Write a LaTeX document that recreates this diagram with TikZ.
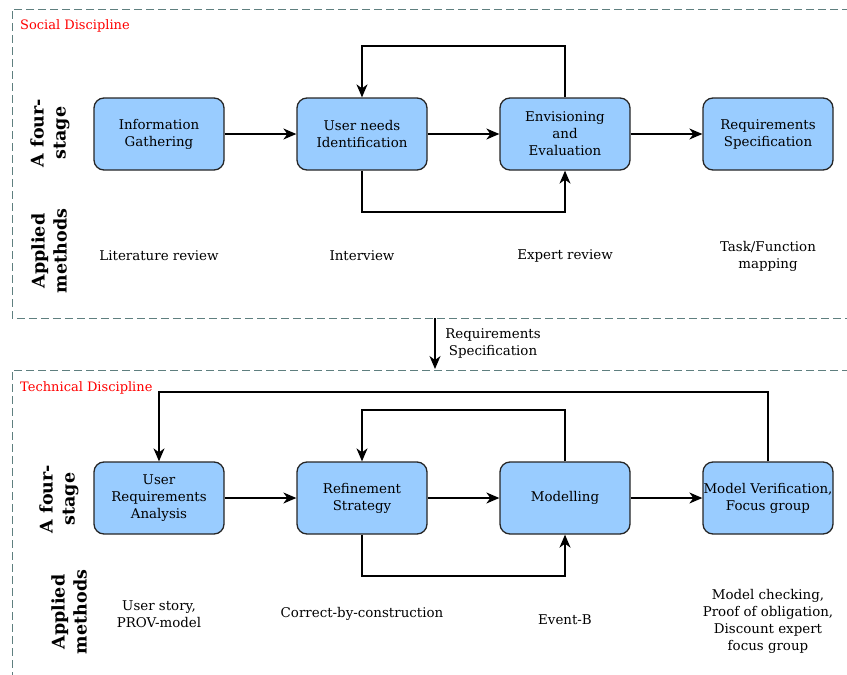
\documentclass[tikz,border=0pt]{standalone}
\usepackage{fontspec}
\setmainfont{DejaVu Serif}
\usetikzlibrary{arrows.meta}
\definecolor{boxfill}{HTML}{99CCFF}
\definecolor{framecol}{HTML}{5F7F7F}
\begin{document}
\begin{tikzpicture}[x=1pt,y=-1pt,
  stagebox/.style={draw=black!85, fill=boxfill, rounded corners=10pt, line width=1.3pt,
    minimum width=130pt, minimum height=72pt, align=center,
    font=\fontsize{13.4}{17}\selectfont, inner sep=0pt},
  method/.style={align=center, font=\fontsize{13.4}{17}\selectfont, inner sep=0pt},
  rowlabel/.style={rotate=90, align=center, font=\fontsize{17.5}{22}\selectfont\bfseries, inner sep=0pt},
  discipline/.style={anchor=base west, text=red, font=\fontsize{13}{15}\selectfont, inner sep=0pt},
  frame/.style={draw=framecol, dash pattern=on 8pt off 4pt, line width=1pt},
  flow/.style={draw, line width=1.3pt, -{Stealth[length=13pt,width=11pt,inset=4pt]}},
]
\useasboundingbox (0,0) rectangle (847,675);

% discipline frames (open towards the right edge)
\draw[frame] (850,9) -- (12,9) -- (12,318) -- (850,318);
\draw[frame] (850,370) -- (12,370) -- (12,680);

\node[discipline] (social) at (20,29) {Social Discipline};
\node[discipline] (technical) at (20,391) {Technical Discipline};

% ---------------- social discipline ----------------
\node[rowlabel] (sfour) at (50,133) {A four-\\stage};
\node[rowlabel] (sapplied) at (49,251) {Applied\\methods};

\node[stagebox] (s1) at (159,134) {Information\\Gathering};
\node[stagebox] (s2) at (362,134) {User needs\\Identification};
\node[stagebox] (s3) at (565,134) {Envisioning\\and\\Evaluation};
\node[stagebox] (s4) at (768,134) {Requirements\\Specification};

\draw[flow] (s1) -- (s2);
\draw[flow] (s2) -- (s3);
\draw[flow] (s3) -- (s4);

\coordinate (sloopup) at (0,46);
\coordinate (sloopdown) at (0,212);
\draw[flow] (s3.north) -- (s3.north |- sloopup) -| (s2.north);
\draw[flow] (s2.south) -- (s2.south |- sloopdown) -| (s3.south);

\node[method] (m1) at (159,256) {Literature review};
\node[method] (m2) at (362,256) {Interview};
\node[method] (m3) at (565,256) {Expert review};
\node[method] (m4) at (768,256) {Task/Function\\mapping};

% ---------------- hand-over ----------------
\coordinate (handout) at (435,318);
\coordinate (handin) at (435,369);
\draw[flow] (handout) -- (handin);
\node[method] (handlabel) at (493,343) {Requirements\\Specification};

% ---------------- technical discipline ----------------
\node[rowlabel] (tfour) at (59,499) {A four-\\stage};
\node[rowlabel] (tapplied) at (69,612) {Applied\\methods};

\node[stagebox] (t1) at (159,498) {User\\Requirements\\Analysis};
\node[stagebox] (t2) at (362,498) {Refinement\\Strategy};
\node[stagebox] (t3) at (565,498) {Modelling};
\node[stagebox] (t4) at (768,498) {Model Verification,\\Focus group};

\draw[flow] (t1) -- (t2);
\draw[flow] (t2) -- (t3);
\draw[flow] (t3) -- (t4);

\coordinate (tloopbig) at (0,392);
\coordinate (tloopup) at (0,410);
\coordinate (tloopdown) at (0,576);
\draw[flow] (t4.north) -- (t4.north |- tloopbig) -| (t1.north);
\draw[flow] (t3.north) -- (t3.north |- tloopup) -| (t2.north);
\draw[flow] (t2.south) -- (t2.south |- tloopdown) -| (t3.south);

\node[method] (n1) at (159,614) {User story,\\PROV-model};
\node[method] (n2) at (362,614) {Correct-by-construction};
\node[method] (n3) at (565,620) {Event-B};
\node[method] (n4) at (768,621) {Model checking,\\Proof of obligation,\\Discount expert\\focus group};
\end{tikzpicture}
\end{document}
